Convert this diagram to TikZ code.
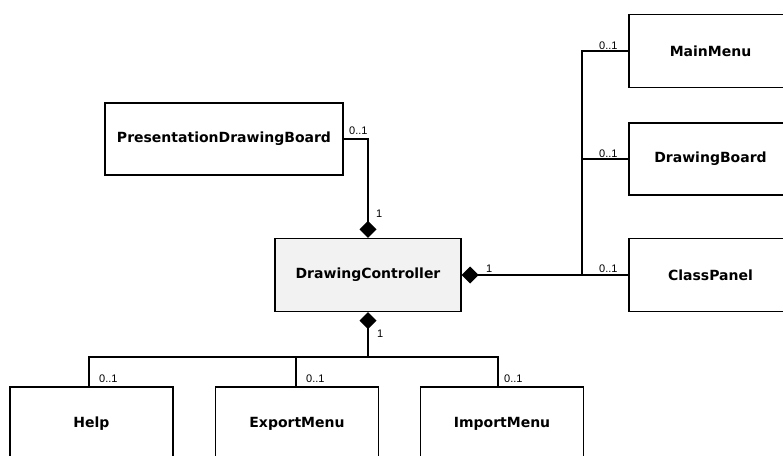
\documentclass[tikz,border=0pt]{standalone}
\usepackage{fontspec}
\usetikzlibrary{arrows.meta}
\newfontfamily\classfont{DejaVu Sans}
\newfontfamily\multfont{Liberation Sans}
\begin{document}
\begin{tikzpicture}[x=1pt,y=-1pt,
  umlclass/.style={draw, line width=1.4pt, minimum width=163pt, minimum height=73pt,
    inner sep=0pt, font=\classfont\bfseries\fontsize{14}{16}\selectfont, fill=white},
  ctrl/.style={umlclass, minimum width=186pt, fill=gray!10},
  wide/.style={umlclass, minimum width=238pt, minimum height=72pt},
  link/.style={line width=1.4pt},
  comp/.style={link, {Diamond[length=17pt,width=17pt]}-},
  mult/.style={inner sep=0pt, anchor=base west, font=\multfont\fontsize{11}{13}\selectfont}]
  \useasboundingbox (0,0) rectangle (783,455);
  \clip (0,0) rectangle (783,455);

  % classes
  \node[wide] (pdb) at (224,139) {PresentationDrawingBoard};
  \node[ctrl] (dc) at (368,275) {DrawingController};
  \node[umlclass] (mm) at (710.5,51) {MainMenu};
  \node[umlclass, minimum height=72pt] (db) at (710.5,159) {DrawingBoard};
  \node[umlclass] (cp) at (710.5,275) {ClassPanel};
  \node[umlclass] (help) at (91.5,423.5) {Help};
  \node[umlclass] (exp) at (297,423.5) {ExportMenu};
  \node[umlclass] (imp) at (502,423.5) {ImportMenu};

  % junction points of the shared connector branches
  \coordinate (rj) at (582,275);
  \coordinate (bj) at (368,357);

  % compositions
  \draw[comp] (dc.north) |- (pdb.east);
  \draw[comp] (dc.east) -- (cp.west);
  \draw[link] (mm.west) -| (rj);
  \draw[link] (db.west) -| (rj);
  \draw[comp] (dc.south) -- (bj);
  \draw[link] ([xshift=-2.5pt]help.north) |- (bj);
  \draw[link] ([xshift=-1pt]exp.north) |- (bj);
  \draw[link] ([xshift=-4pt]imp.north) |- (bj);

  % multiplicities
  \node[mult] (m1) at (349,134) {0..1};
  \node[mult] (m2) at (376,217) {1};
  \node[mult] (m3) at (486,272) {1};
  \node[mult] (m4) at (599,49) {0..1};
  \node[mult] (m5) at (599,157) {0..1};
  \node[mult] (m6) at (599,272) {0..1};
  \node[mult] (m7) at (377,337) {1};
  \node[mult] (m8) at (99,382) {0..1};
  \node[mult] (m9) at (306,382) {0..1};
  \node[mult] (m10) at (504,382) {0..1};
\end{tikzpicture}
\end{document}
